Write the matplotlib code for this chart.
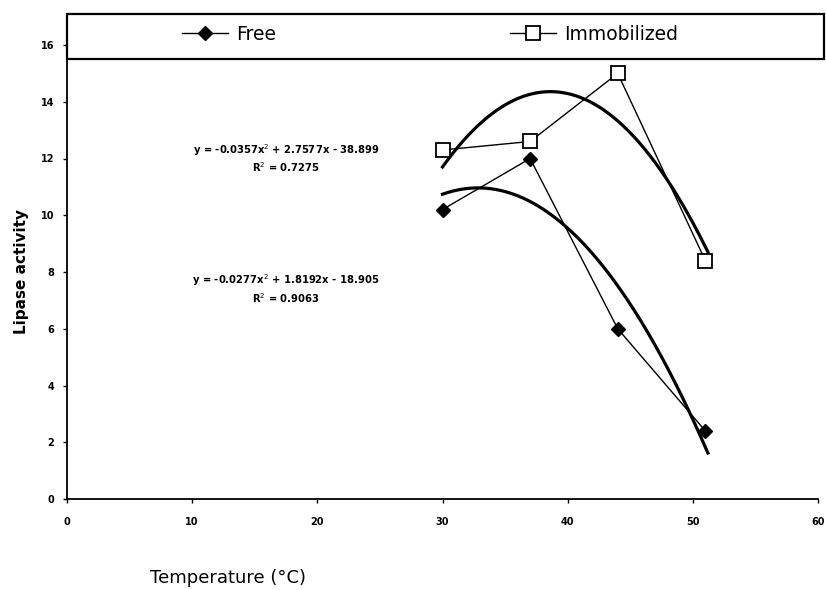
import matplotlib.pyplot as plt
from matplotlib.patches import Rectangle
import numpy as np

# data
temp = [30, 37, 44, 51]
free = [10.2, 12.0, 6.0, 2.4]
immob = [12.3, 12.6, 15.0, 8.4]

# polynomial trendlines (coefficients as printed)
coef_free = [-0.0277, 1.8192, -18.905]
coef_immob = [-0.0357, 2.7577, -38.899]
eq_free = "y = -0.0277x$^2$ + 1.8192x - 18.905"
r2_free = "R$^2$ = 0.9063"
eq_immob = "y = -0.0357x$^2$ + 2.7577x - 38.899"
r2_immob = "R$^2$ = 0.7275"

xticks = [0, 10, 20, 30, 40, 50, 60]
yticks = [0, 2, 4, 6, 8, 10, 12, 14, 16]

W, H = 826, 590
fig = plt.figure(figsize=(W / 100, H / 100), dpi=100)
ax = fig.add_axes([67 / W, 1 - 499 / H, (818 - 67) / W, (499 - 45) / H])

ax.plot(temp, free, color="black", lw=1.0, marker="D", ms=7,
        mfc="black", mec="black", label="Free", zorder=3)
ax.plot(temp, immob, color="black", lw=1.0, marker="s", ms=10,
        mfc="white", mec="black", mew=1.3, label="Immobilized", zorder=3)

xs = np.linspace(30, 51.2, 200)
ax.plot(xs, np.polyval(coef_free, xs), color="black", lw=2.3, zorder=2)
ax.plot(xs, np.polyval(coef_immob, xs), color="black", lw=2.3, zorder=2)

# equation labels
ax.text(17.5, 12.3, eq_immob, ha="center", va="center", fontsize=7.2, fontweight="bold")
ax.text(17.5, 11.68, r2_immob, ha="center", va="center", fontsize=7.2, fontweight="bold")
ax.text(17.5, 7.7, eq_free, ha="center", va="center", fontsize=7.2, fontweight="bold")
ax.text(17.5, 7.08, r2_free, ha="center", va="center", fontsize=7.2, fontweight="bold")

ax.set_xlim(0, 60)
ax.set_ylim(0, 16)
ax.set_xticks(xticks)
ax.set_yticks(yticks)
ax.tick_params(labelsize=7, length=3, width=1)
ax.tick_params(axis="x", pad=10)
ax.tick_params(axis="y", pad=6)
for lab in ax.get_xticklabels() + ax.get_yticklabels():
    lab.set_fontweight("bold")
ax.spines["top"].set_visible(False)
ax.spines["right"].set_visible(False)
ax.spines["left"].set_linewidth(1.3)
ax.spines["bottom"].set_linewidth(1.3)

ax.set_ylabel("Lipase activity", fontsize=11, fontweight="bold")
ax.yaxis.set_label_coords(-0.05, 0.5)
fig.text(228 / W, 1 - 578 / H, "Temperature (\u00b0C)", ha="center", va="center", fontsize=13)

# legend box across the top
fig.patches.append(Rectangle((67 / W, 1 - 59 / H), (824 - 67) / W, (59 - 14) / H,
                             transform=fig.transFigure, facecolor="white",
                             edgecolor="black", lw=1.6, zorder=5))
leg = fig.legend(loc="center", bbox_to_anchor=(430 / W, 1 - 34 / H), ncol=2,
                 frameon=False, fontsize=13.5, handlelength=2.45, columnspacing=12.5,
                 handletextpad=0.4)
leg.set_zorder(6)

fig.savefig("out.png", dpi=100)
